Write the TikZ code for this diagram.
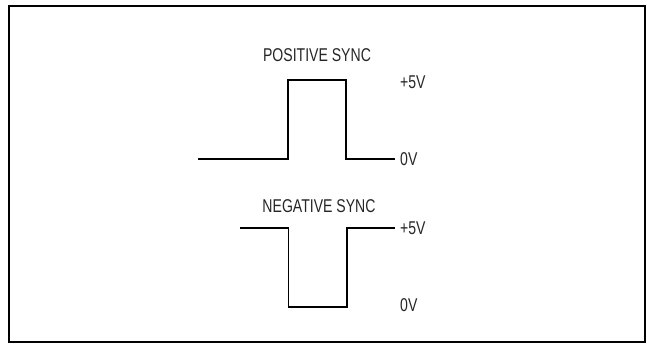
\documentclass[tikz,border=0pt]{standalone}
\usepackage{fontspec}
\setmainfont[FakeStretch=0.76]{Liberation Sans}
\usetikzlibrary{positioning}

\begin{document}
\begin{tikzpicture}[x=1pt,y=-1pt,
		lbl/.style={inner sep=0pt, font=\fontsize{18.5}{22}\selectfont, text=black!85},
		volt/.style={lbl, anchor=west, inner xsep=5pt},
		wave/.style={line width=1.5pt}]
		\useasboundingbox (0,0) rectangle (647,343);
		\draw[line width=2pt] (9,6) rectangle (644.5,342);
		% positive sync
		\draw (317,55) node [lbl] (pos) {POSITIVE SYNC};
		\draw (395,82) node [volt] (pHi) {+5V};
		\draw (395,159) node [volt] (pLo) {0V};
		\coordinate (pStart) at (198,159);
		\draw[wave] (pStart) -| (288,80) -| (346,159) -- (pLo.west);
		% negative sync
		\draw (319,206) node [lbl] (neg) {NEGATIVE SYNC};
		\draw (395,228) node [volt] (nHi) {+5V};
		\draw (395,305) node [volt] (nLo) {0V};
		\coordinate (nStart) at (240,228);
		\draw[wave] (nStart) -| (288.5,307) -| (347,228) -- (nHi.west);
	\end{tikzpicture}
\end{document}
